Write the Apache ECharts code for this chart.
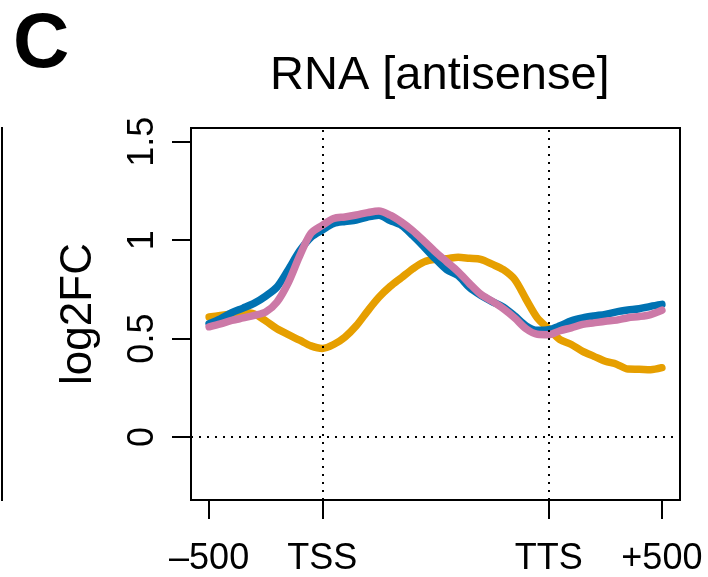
<!DOCTYPE html>
<html>
<head>
<meta charset="utf-8">
<script src="https://cdn.jsdelivr.net/npm/echarts@6/dist/echarts.min.js"></script>
<style>
  html, body { margin: 0; padding: 0; background: #fff; }
  #chart { width: 708px; height: 577px; }
</style>
</head>
<body>
<div id="chart"></div>
<script>
// positions along the meta-gene: -500 -> 0, TSS -> 500, TTS -> 1500, +500 -> 2000
const xPos = [0, 50, 100, 150, 200, 250, 300, 350, 400, 450, 500, 550, 600, 650, 700, 750, 800, 850, 900, 950,
  1000, 1050, 1100, 1150, 1200, 1250, 1300, 1350, 1400, 1450, 1500, 1550, 1600, 1650, 1700, 1750, 1800, 1850, 1900, 1950, 2000]

const orangeVals = [0.61, 0.617, 0.625, 0.632, 0.625, 0.59, 0.55, 0.52, 0.492, 0.463, 0.45, 0.47, 0.508, 0.565, 0.64, 0.71, 0.765, 0.81, 0.855, 0.89,
  0.903, 0.906, 0.913, 0.908, 0.903, 0.878, 0.85, 0.8, 0.7, 0.605, 0.55, 0.495, 0.47, 0.435, 0.41, 0.385, 0.37, 0.345, 0.344, 0.342, 0.352]
const blueVals = [0.576, 0.6, 0.632, 0.655, 0.68, 0.716, 0.762, 0.85, 0.945, 1.015, 1.052, 1.085, 1.095, 1.102, 1.118, 1.127, 1.1, 1.075, 1.023, 0.965,
  0.905, 0.85, 0.82, 0.76, 0.72, 0.688, 0.66, 0.615, 0.565, 0.542, 0.545, 0.565, 0.59, 0.605, 0.615, 0.623, 0.636, 0.645, 0.652, 0.664, 0.674]
const pinkVals = [0.56, 0.575, 0.592, 0.605, 0.618, 0.635, 0.686, 0.785, 0.92, 1.035, 1.075, 1.11, 1.118, 1.128, 1.14, 1.148, 1.127, 1.092, 1.048, 0.995,
  0.94, 0.89, 0.84, 0.78, 0.725, 0.69, 0.652, 0.605, 0.55, 0.522, 0.52, 0.54, 0.555, 0.572, 0.58, 0.588, 0.594, 0.606, 0.612, 0.622, 0.644]

const xTickValues = [0, 500, 1500, 2000]
const xTickLabels = ['–500', 'TSS', 'TTS', '+500']
const yTickValues = [0, 0.5, 1, 1.5]
const yTickLabels = ['0', '0.5', '1', '1.5']

const font = 'Liberation Sans'
const toPairs = (vals) => xPos.map((x, i) => [x, vals[i]])

const myChart = echarts.init(document.getElementById('chart'))
const option = {
  animation: false,
  backgroundColor: '#fff',
  title: [
    {
      text: 'C',
      left: 8,
      top: 1,
      textStyle: { fontFamily: font, fontSize: 78, fontWeight: 'bold', color: '#000' }
    },
    {
      text: 'RNA [antisense]',
      left: 265,
      top: 48,
      textStyle: { fontFamily: font, fontSize: 47, fontWeight: 'normal', color: '#000' }
    }
  ],
  graphic: [
    // edge of the neighbouring panel
    { type: 'line', shape: { x1: 2, y1: 127, x2: 2, y2: 501 }, style: { stroke: '#000', lineWidth: 2 } }
  ],
  grid: {
    left: 191,
    right: 28,
    top: 128,
    bottom: 75,
    show: true,
    borderColor: '#000',
    borderWidth: 2,
    backgroundColor: 'transparent'
  },
  xAxis: {
    type: 'value',
    min: -80,
    max: 2080,
    axisLine: { show: true, onZero: false, lineStyle: { color: '#000', width: 2 } },
    axisTick: { show: true, length: 19, lineStyle: { color: '#000', width: 2 }, customValues: xTickValues },
    axisLabel: {
      customValues: xTickValues,
      formatter: (v) => xTickLabels[xTickValues.indexOf(v)],
      fontFamily: font,
      fontSize: 36,
      color: '#000',
      margin: 41
    },
    splitLine: { show: false }
  },
  yAxis: {
    type: 'value',
    min: -0.32,
    max: 1.57,
    name: 'log2FC',
    nameLocation: 'middle',
    nameGap: 90,
    nameTextStyle: { fontFamily: font, fontSize: 44, color: '#000' },
    axisLine: { show: true, onZero: false, lineStyle: { color: '#000', width: 2 } },
    axisTick: { show: true, length: 19, lineStyle: { color: '#000', width: 2 }, customValues: yTickValues },
    axisLabel: {
      customValues: yTickValues,
      formatter: (v) => yTickLabels[yTickValues.indexOf(v)],
      rotate: 90,
      fontFamily: font,
      fontSize: 36,
      color: '#000',
      margin: 30
    },
    splitLine: { show: false }
  },
  series: [
    {
      name: 'orange',
      type: 'line',
      data: toPairs(orangeVals),
      showSymbol: false,
      smooth: 0.3,
      lineStyle: { color: '#E69F00', width: 7.5, cap: 'round', join: 'round' },
      markLine: {
        silent: true,
        symbol: 'none',
        label: { show: false },
        lineStyle: { color: '#000', width: 2, type: [2, 6] },
        data: [{ xAxis: 500 }, { xAxis: 1500 }, { yAxis: 0 }]
      }
    },
    {
      name: 'blue',
      type: 'line',
      data: toPairs(blueVals),
      showSymbol: false,
      smooth: 0.3,
      lineStyle: { color: '#0072B2', width: 7.5, cap: 'round', join: 'round' }
    },
    {
      name: 'pink',
      type: 'line',
      data: toPairs(pinkVals),
      showSymbol: false,
      smooth: 0.3,
      lineStyle: { color: '#CC79A7', width: 7.5, cap: 'round', join: 'round' }
    }
  ]
}
myChart.setOption(option)
</script>
</body>
</html>
